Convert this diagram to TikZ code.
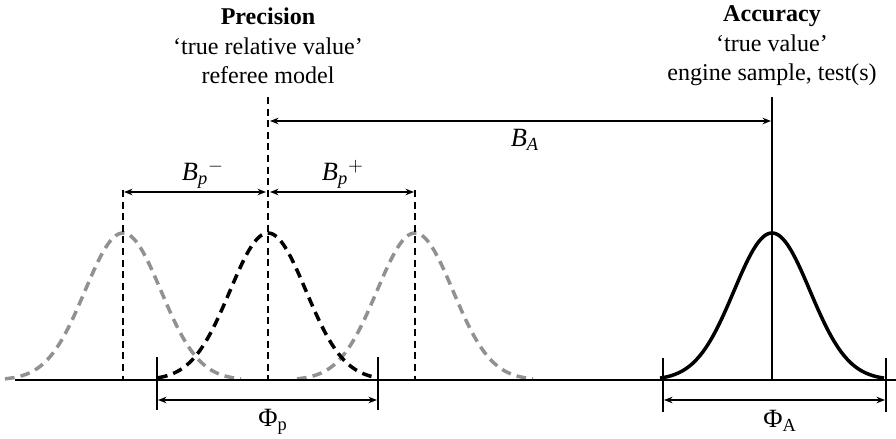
\documentclass[tikz,border=0pt]{standalone}
\usepackage{amsmath}
\usepackage{fontspec}
\setmainfont{Liberation Serif}
\usetikzlibrary{arrows.meta,positioning}
\definecolor{curvegray}{RGB}{145,145,145}
\tikzset{
  >={Stealth[length=1.7mm,width=1.3mm]},
  axisline/.style={line width=1.1pt},
  tickline/.style={line width=1.1pt},
  dimline/.style={<->, line width=0.75pt},
  guide/.style={line width=1.0pt, dash pattern=on 4pt off 2.6pt},
  meanline/.style={line width=1.1pt},
  shifted/.style={line width=2.0pt, draw=curvegray, dash pattern=on 5.5pt off 3.5pt},
  refcurve/.style={line width=2.0pt, draw=black, dash pattern=on 5.5pt off 3.5pt},
  enginecurve/.style={line width=2.0pt, draw=black},
  heading/.style={align=center, font=\fontsize{13.7}{16.8}\selectfont},
  dimlabel/.style={font=\fontsize{15}{18}\selectfont, inner sep=0pt}
}

\begin{document}
\begin{tikzpicture}[x=0.02cm, y=-0.02cm]
  \useasboundingbox (0,0) rectangle (896,439);

  % Reference points on the axis.
  \coordinate (axisL) at (15,380);
  \coordinate (axisR) at (896,380);
  \coordinate (refC) at (268,380);
  \coordinate (refM) at (123,380);
  \coordinate (refP) at (415,380);
  \coordinate (engC) at (772,380);

  % Headings.
  \node[heading] (prec) at (268,46) {\textbf{Precision}\\‘true relative value’\\referee model};
  \node[heading] (accu) at (772,46) {\textbf{Accuracy}\\‘true value’\\engine sample, test(s)};

  % Curves.
  \draw[shifted] plot[domain=-118:118, samples=90] ({123+\x},{380-147*exp(-\x*\x/2888)});
  \draw[shifted] plot[domain=-118:118, samples=90] ({415+\x},{380-147*exp(-\x*\x/2888)});
  \draw[refcurve] plot[domain=-110:110, samples=90] ({268+\x},{380-147*exp(-\x*\x/2888)});
  \draw[enginecurve] plot[domain=-112:112, samples=90] ({772+\x},{380-147*exp(-\x*\x/2888)});

  % Axis.
  \draw[axisline] (axisL) -- (axisR);

  % Guide lines.
  \coordinate (refTop) at (268,97);
  \coordinate (refMTop) at (123,190);
  \coordinate (refPTop) at (415,190);
  \coordinate (engTop) at (772,97);
  \draw[guide] (refTop) -- (refC);
  \draw[guide] (refMTop) -- (refM);
  \draw[guide] (refPTop) -- (refP);
  \draw[meanline] (engTop) -- (engC);

  % Bias arrows.
  \coordinate (bpL) at (124,192);
  \coordinate (bpC1) at (266,192);
  \coordinate (bpC2) at (270,192);
  \coordinate (bpR) at (414,192);
  \coordinate (baL) at (270,121);
  \coordinate (baR) at (771,121);
  \draw[dimline] (bpL) -- (bpC1);
  \draw[dimline] (bpC2) -- (bpR);
  \draw[dimline] (baL) -- (baR);
  \node[dimlabel] (bpm) at (203,174) {\textit{B}$_{\textit{p}}{}^{-}$};
  \node[dimlabel] (bpp) at (343,174) {\textit{B}$_{\textit{p}}{}^{+}$};
  \node[dimlabel] (ba) at (525,140) {\textit{B}$_{\textit{A}}$};

  % Spread ticks and arrows.
  \coordinate (phpL) at (157,357);
  \coordinate (phpLb) at (157,410);
  \coordinate (phpR) at (378,357);
  \coordinate (phpRb) at (378,410);
  \coordinate (phaL) at (663,358);
  \coordinate (phaLb) at (663,412);
  \coordinate (phaR) at (886,358);
  \coordinate (phaRb) at (886,412);
  \draw[tickline] (phpL) -- (phpLb);
  \draw[tickline] (phpR) -- (phpRb);
  \draw[tickline] (phaL) -- (phaLb);
  \draw[tickline] (phaR) -- (phaRb);
  \draw[dimline] (158,400) -- (377,400);
  \draw[dimline] (664,400) -- (885,400);
  \node[dimlabel] (php) at (273,422) {Φ\textsubscript{p}};
  \node[dimlabel] (pha) at (780,421) {Φ\textsubscript{A}};
\end{tikzpicture}
\end{document}
